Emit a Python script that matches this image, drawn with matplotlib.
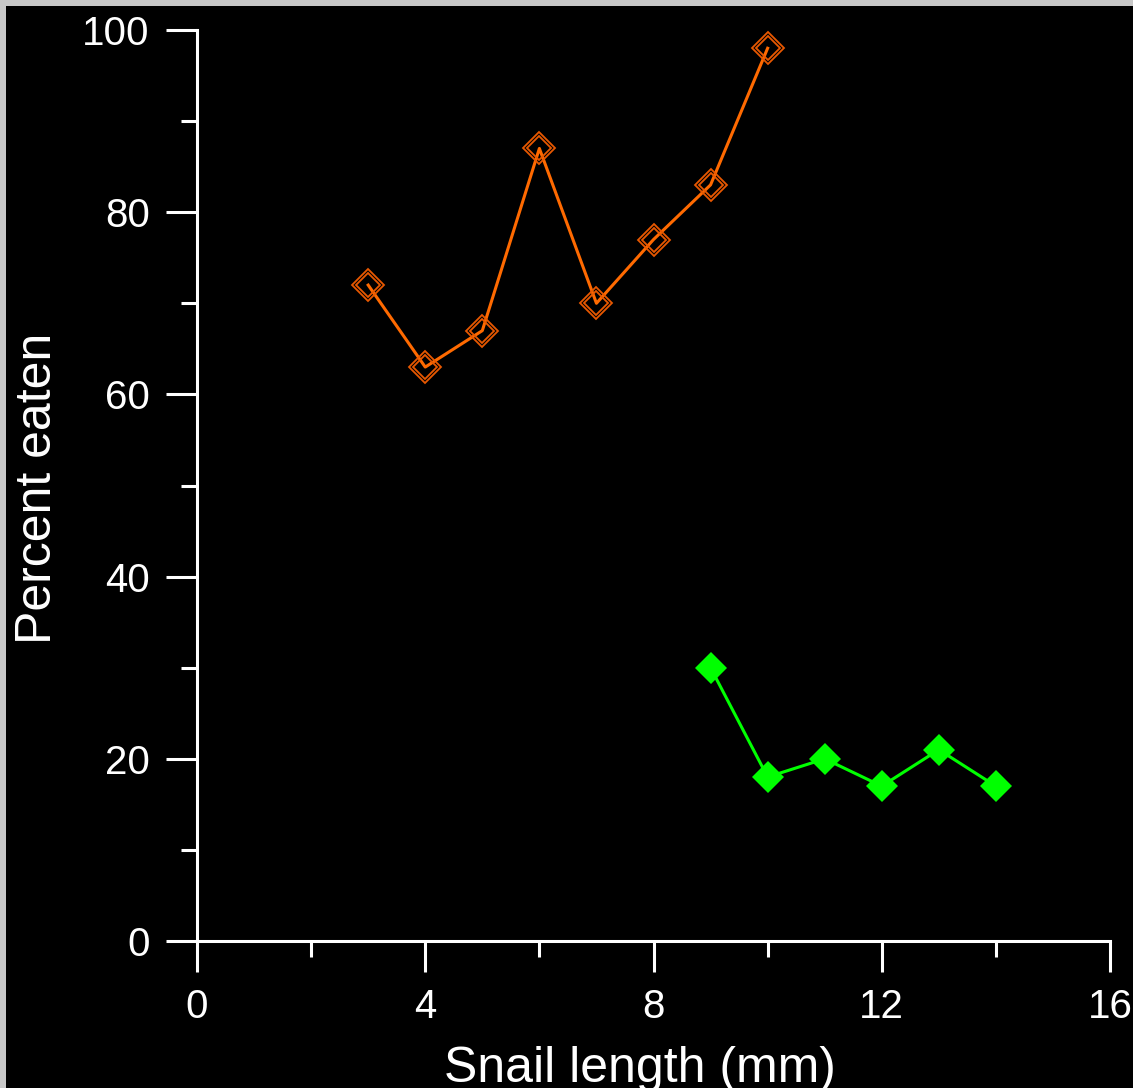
import matplotlib
matplotlib.use("Agg")
import matplotlib.pyplot as plt
from matplotlib.patches import Rectangle
from matplotlib.ticker import MultipleLocator

plt.rcParams['font.family'] = ['Liberation Sans', 'DejaVu Sans']

# data
orange_x = [3, 4, 5, 6, 7, 8, 9, 10]
orange_y = [72, 63, 67, 87, 70, 77, 83, 98]
green_x = [9, 10, 11, 12, 13, 14]
green_y = [30, 18, 20, 17, 21, 17]

fig = plt.figure(figsize=(11.33, 10.88), dpi=100)
fig.patch.set_facecolor('black')
# gray strips on the left and top edge
fig.patches.append(Rectangle((0, 0), 6 / 1133, 1, transform=fig.transFigure,
                             facecolor='#c8c8c8', edgecolor='none', zorder=-1))
fig.patches.append(Rectangle((0, 1 - 6 / 1088), 1, 6 / 1088, transform=fig.transFigure,
                             facecolor='#c8c8c8', edgecolor='none', zorder=-1))

ax = fig.add_axes([197 / 1133, 1 - 941 / 1088, (1110 - 197) / 1133, (941 - 30) / 1088])
ax.set_facecolor('black')

# orange series: line + double outlined open diamonds
ax.plot(orange_x, orange_y, color='#ff6a00', lw=2.2, zorder=3)
ax.plot(orange_x, orange_y, ls='none', marker='D', ms=15.8, mfc='none',
        mec='#e85800', mew=1.3, zorder=4)
ax.plot(orange_x, orange_y, ls='none', marker='D', ms=11.8, mfc='none',
        mec='#e85800', mew=1.3, zorder=4)

# green series: filled diamonds
ax.plot(green_x, green_y, color='#00ff00', lw=2.2, marker='D', ms=16,
        mfc='#00ff00', mec='#00ff00', mew=0, zorder=4)

ax.set_xlim(0, 16)
ax.set_ylim(0, 100)
ax.xaxis.set_major_locator(MultipleLocator(4))
ax.xaxis.set_minor_locator(MultipleLocator(2))
ax.yaxis.set_major_locator(MultipleLocator(20))
ax.yaxis.set_minor_locator(MultipleLocator(10))

for s in ['top', 'right']:
    ax.spines[s].set_visible(False)
for s in ['left', 'bottom']:
    ax.spines[s].set_color('white')
    ax.spines[s].set_linewidth(2.2)

ax.tick_params(which='major', direction='out', length=22, width=2.2, color='white',
               labelcolor='white', labelsize=29, pad=12)
ax.tick_params(which='minor', direction='out', length=11.5, width=2.2, color='white')

ax.set_xlabel('Snail length (mm)', color='white', fontsize=36)
ax.set_ylabel('Percent eaten', color='white', fontsize=36)
ax.xaxis.set_label_coords(0.485, -0.115)
ax.yaxis.set_label_coords(-0.149, 0.497)

fig.savefig('out.png', dpi=100, facecolor=fig.get_facecolor())
